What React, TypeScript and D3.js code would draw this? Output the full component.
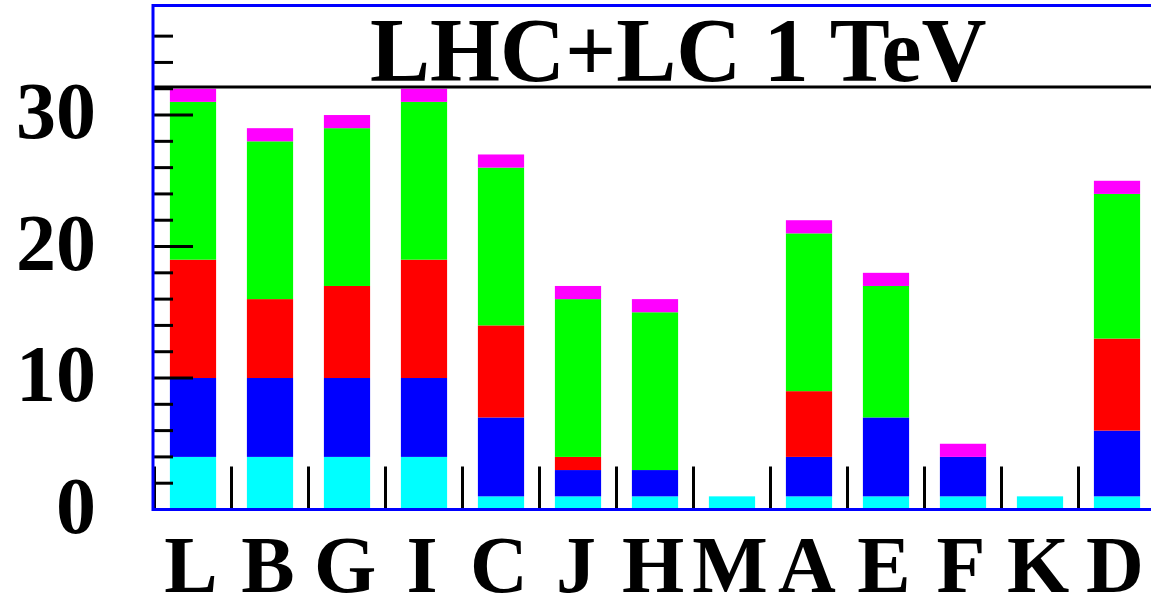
import React from "react";
import * as d3 from "d3";

const categories = ["L", "B", "G", "I", "C", "J", "H", "M", "A", "E", "F", "K", "D"];
const cyanVals = [4, 4, 4, 4, 1, 1, 1, 1, 1, 1, 1, 1, 1];
const blueVals = [6, 6, 6, 6, 6, 2, 2, 0, 3, 6, 3, 0, 5];
const redVals = [9, 6, 7, 9, 7, 1, 0, 0, 5, 0, 0, 0, 7];
const greenVals = [12, 12, 12, 12, 12, 12, 12, 0, 12, 10, 0, 0, 11];
const magentaVals = [1, 1, 1, 1, 1, 1, 1, 0, 1, 1, 1, 0, 1];
const seriesKeys = ["cyan", "blue", "red", "green", "magenta"];
const seriesColors = ["#00ffff", "#0000ff", "#ff0000", "#00ff00", "#ff00ff"];
const yMajorTicks = [0, 10, 20, 30];
const yMinorTicks = d3.range(0, 37, 2);
const titleText = "LHC+LC 1 TeV";

const W = 1151;
const H = 598;
const FONT = "'Liberation Serif', 'Times New Roman', serif";

export default function App() {
  const rows = categories.map((c, i) => ({
    cat: c,
    cyan: cyanVals[i],
    blue: blueVals[i],
    red: redVals[i],
    green: greenVals[i],
    magenta: magentaVals[i],
  }));
  const stacked = d3.stack<any>().keys(seriesKeys)(rows);

  const left = 153;
  const bin = 77;
  const x = d3
    .scaleBand<string>()
    .domain(categories)
    .range([left + 1.5, left + 1.5 + bin * categories.length])
    .paddingInner(0)
    .paddingOuter(0);
  const bw = x.bandwidth();
  const y = d3.scaleLinear().domain([0, 38.33]).range([509.5, 5.5]);

  const edges = categories.slice(1).map((c) => x(c)!);

  return (
    <div style={{ position: "fixed", left: 0, top: 0, width: W, height: H, background: "#fff" }}>
      <svg width={W} height={H} style={{ display: "block" }}>
        <rect x={0} y={0} width={W} height={H} fill="#fff" />
        {stacked.map((s, si) => (
          <g key={seriesKeys[si]} fill={seriesColors[si]}>
            {s.map((d, i) => {
              const h = y(d[0]) - y(d[1]);
              if (h <= 0) return null;
              return (
                <rect
                  key={i}
                  x={x(categories[i])! + bw * 0.2}
                  y={y(d[1])}
                  width={bw * 0.6}
                  height={h}
                />
              );
            })}
          </g>
        ))}
        <g stroke="#000" strokeWidth={3}>
          {yMinorTicks.map((t) => {
            const major = yMajorTicks.includes(t);
            return (
              <line key={t} x1={left} x2={left + (major ? 40 : 20)} y1={y(t)} y2={y(t)} />
            );
          })}
          {edges.map((e, i) => (
            <line key={i} x1={e} x2={e} y1={y(0)} y2={y(0) - 43} />
          ))}
          <line x1={left + 1.5} x2={left + 1.5} y1={y(0)} y2={y(0) - 43} />
        </g>
        <line x1={left} x2={W + 10} y1={87} y2={87} stroke="#000" strokeWidth={3} />
        <rect
          x={left}
          y={y(38.33)}
          width={W + 20 - left}
          height={y(0) - y(38.33)}
          fill="none"
          stroke="#0000ff"
          strokeWidth={3}
        />
        <text x={370} y={80.5} fontFamily={FONT} fontWeight="bold" fontSize={90} fill="#000">
          {titleText}
        </text>
        {yMajorTicks.map((t) => (
          <text
            key={t}
            x={96}
            y={y(t) + 23}
            textAnchor="end"
            fontFamily={FONT}
            fontWeight="bold"
            fontSize={80}
            fill="#000"
          >
            {t}
          </text>
        ))}
        {categories.map((c) => (
          <text
            key={c}
            x={x(c)! + bw / 2 - 2}
            y={592}
            textAnchor="middle"
            fontFamily={FONT}
            fontWeight="bold"
            fontSize={80}
            fill="#000"
          >
            {c}
          </text>
        ))}
      </svg>
    </div>
  );
}
